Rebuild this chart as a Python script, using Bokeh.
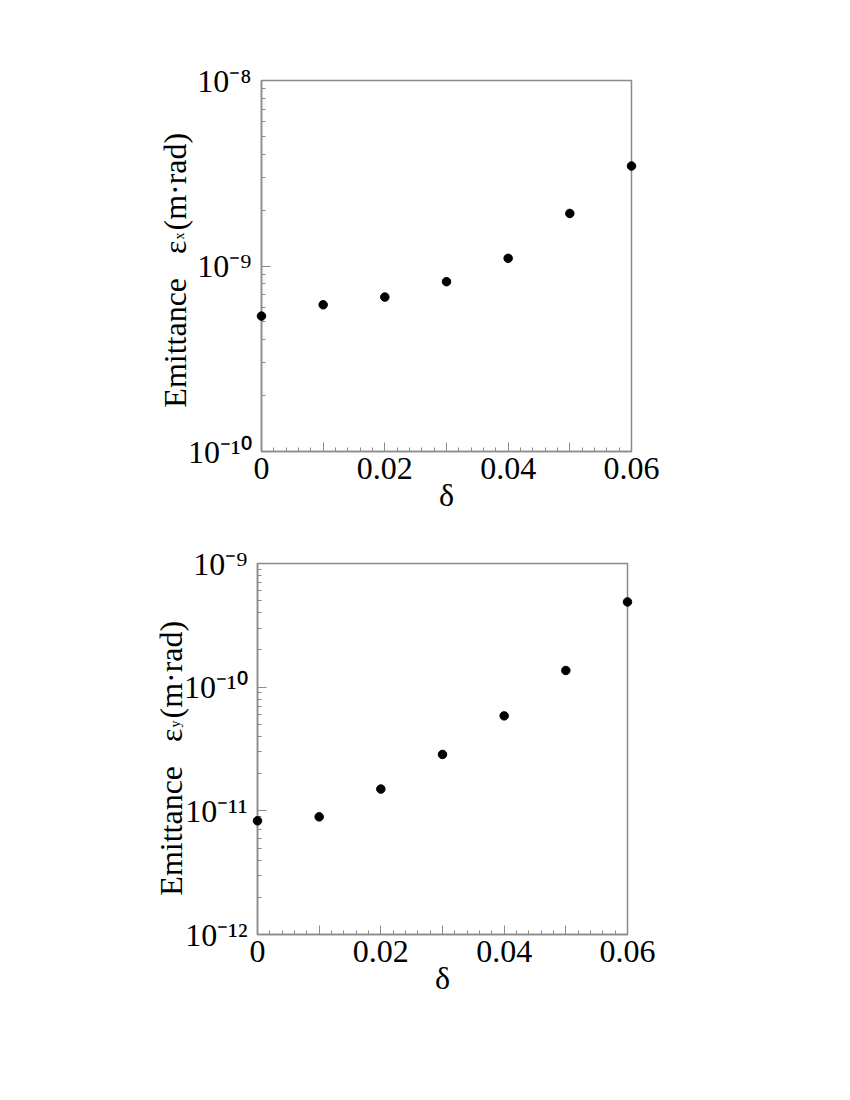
import math
from bokeh.plotting import figure
from bokeh.layouts import column
from bokeh.models import FixedTicker, CustomJSTickFormatter, Range1d
from bokeh.core.properties import value
from bokeh.embed import file_html
from bokeh.resources import INLINE

# ---------------- data ----------------
delta = [0.0, 0.01, 0.02, 0.03, 0.04, 0.05, 0.06]
emit_x = [5.37e-10, 6.18e-10, 6.80e-10, 8.23e-10, 1.10e-9, 1.92e-9, 3.46e-9]
emit_y = [8.3e-12, 8.94e-12, 1.50e-11, 2.86e-11, 5.86e-11, 1.365e-10, 4.89e-10]

x_ticks = [0.0, 0.01, 0.02, 0.03, 0.04, 0.05, 0.06]
x_tick_labels = ["0", "", "0.02", "", "0.04", "", "0.06"]
x_minor = [i * 0.002 for i in range(31)]

top_exps = [-10, -9, -8]
top_labels = ["10\u207b\u00b9\u2070", "10\u207b\u2079", "10\u207b\u2078"]
bot_exps = [-12, -11, -10, -9]
bot_labels = ["10\u207b\u00b9\u00b2", "10\u207b\u00b9\u00b9", "10\u207b\u00b9\u2070", "10\u207b\u2079"]

x_title = "\u03b4"
y_title_main = "Emittance\u00a0\u00a0\u00a0\u03b5"
y_title_unit = "(m\u00b7rad)"

FONT = "Liberation Serif"
GRAY = "#8a8a8a"
FIG_W = 676
BORDER_L = 261


def make_panel(ys, exps, labels, sub, border_top, border_bottom, title_dy, title_shift):
    lo, hi = exps[0], exps[-1]
    p = figure(width=FIG_W,
               height=border_top + 371 + border_bottom,
               frame_width=370, frame_height=371,
               min_border_left=BORDER_L, min_border_top=border_top,
               min_border_bottom=border_bottom,
               min_border_right=FIG_W - BORDER_L - 370,
               y_axis_type="log",
               x_range=Range1d(x_ticks[0], x_ticks[-1]),
               y_range=Range1d(10.0 ** lo, 10.0 ** hi),
               output_backend="svg", toolbar_location=None)
    p.grid.visible = False
    p.outline_line_color = GRAY
    p.outline_line_width = 1.5
    p.background_fill_color = "white"
    p.border_fill_color = "white"

    r = p.scatter(delta, ys, size=8.5, color="black")
    r.level = "overlay"

    xa = p.xaxis[0]
    xa.ticker = FixedTicker(ticks=x_ticks, minor_ticks=x_minor)
    xa.formatter = CustomJSTickFormatter(
        args=dict(xs=x_ticks, labels=x_tick_labels),
        code="const i = xs.findIndex(v => Math.abs(v - tick) < 1e-9); return i >= 0 ? labels[i] : '';")
    xa.axis_label = x_title
    xa.axis_label_text_font = FONT
    xa.axis_label_text_font_size = "32px"
    xa.axis_label_text_font_style = "normal"
    xa.axis_label_text_color = "black"
    xa.axis_label_standoff = -5
    xa.major_label_text_font = FONT
    xa.major_label_text_font_size = "32px"
    xa.major_label_standoff = 6

    ya = p.yaxis[0]
    minors = [m * 10.0 ** e for e in exps[:-1] for m in range(2, 10)]
    ya.ticker = FixedTicker(ticks=[10.0 ** e for e in exps], minor_ticks=minors)
    ya.formatter = CustomJSTickFormatter(
        args=dict(exps=exps, labels=labels),
        code="const e = Math.round(Math.log10(tick)); const i = exps.indexOf(e); return i >= 0 ? labels[i] : '';")
    ya.major_label_text_font = FONT
    ya.major_label_text_font_size = "32px"
    ya.major_label_standoff = 10

    for ax in (xa, ya):
        ax.axis_line_color = GRAY
        ax.axis_line_width = 1.5
        ax.major_tick_line_color = GRAY
        ax.minor_tick_line_color = GRAY
        ax.major_tick_in = 9
        ax.major_tick_out = 0
        ax.minor_tick_in = 4
        ax.minor_tick_out = 0
        ax.major_label_text_color = "black"

    # rotated y title, built from pieces so the subscript can be lowered
    ymid = 10.0 ** ((lo + hi) / 2.0)
    common = dict(angle=math.pi / 2, text_font=value(FONT), text_color="black",
                  text_baseline="alphabetic")
    pieces = [
        (y_title_main, "right", "32px", 174 - BORDER_L, title_dy),
        (sub, "left", "14px", 179 - BORDER_L, title_dy - 1),
        (y_title_unit, "left", "32px", 174 - BORDER_L, title_dy - 10),
    ]
    for txt, align, size, dx, dy in pieces:
        g = p.text(x=[x_ticks[0]], y=[ymid], text=[txt], text_align=align,
                   text_font_size=value(size), x_offset=dx + title_shift,
                   y_offset=dy, **common)
        g.level = "overlay"
    return p


p1 = make_panel(emit_x, top_exps, top_labels, "x", 80, 70, -25.5, 0)
p2 = make_panel(emit_y, bot_exps, bot_labels, "y", 42, 70, -20.5, 0)
p2.margin = (0, 0, 0, -4)

layout = column(p1, p2, spacing=0)
open("out.html", "w").write(file_html(layout, INLINE))
